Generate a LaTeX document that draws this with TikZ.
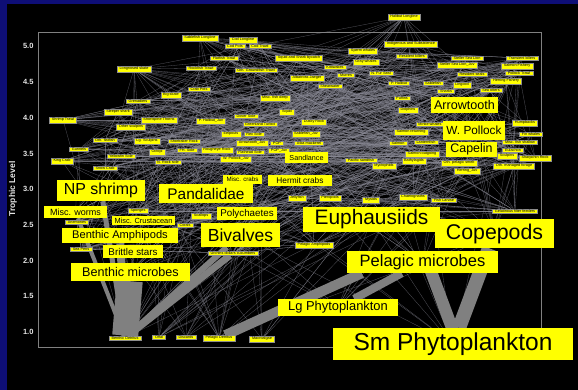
\documentclass[tikz,border=0pt]{standalone}
\usepackage{fontspec}
\setmainfont{Liberation Sans}
\usetikzlibrary{backgrounds}

\definecolor{navy}{RGB}{14,14,118}
\definecolor{webgrey}{RGB}{140,140,152}
\definecolor{labyellow}{RGB}{255,255,0}

\tikzset{
  sm/.style={fill=labyellow, draw=black!45, line width=0.3pt, inner xsep=2.5pt,
    inner ysep=0.9pt, text=black, font=\fontsize{3.8}{4}\selectfont},
  lab/.style={fill=labyellow, inner sep=0pt, text=black},
  web/.style={webgrey, line width=0.3pt, opacity=0.6},
  band/.style={gray},
  tick/.style={anchor=east, text=black!10, font=\fontsize{7.5}{8}\selectfont\bfseries}
}

\begin{document}
\begin{tikzpicture}[x=1pt,y=-1pt]
  \useasboundingbox (0,0) rectangle (578,390);
  \begin{scope}[on background layer]
    \fill[navy] (0,0) rectangle (578,390);
    \fill[black] (7,4) rectangle (578,390);
    \draw[gray,line width=1pt] (38,33) rectangle (541,347);
  \end{scope}

  % axis
  \node[rotate=90, text=black!10, font=\fontsize{8.5}{9}\selectfont\bfseries] (ylab) at (13,189) {Trophic Level};
  \foreach \t [count=\k from 0] in {1.0,1.5,2.0,2.5,3.0,3.5,4.0,4.5,5.0}
    \node[tick] (t\k) at (37,{332-35.7*\k}) {\t};

  % small groups, top to bottom
  \foreach \x/\y/\t [count=\i] in {
    404/17/Halibut Longline, 200/38/Sablefish Longline, 243/40/Cod Longline,
    411/44/Indigenous and Subsistence, 235/46/Cod Pots, 260/46/Cod Trawl,
    363/51/Sperm whales, 412/56/Resident killers, 467/58/Steller Sea Lion,
    522/58/Transient killers, 224/58/Flatfish Trawl, 299/58/Squid and Shark bycatch,
    366/62/Gray whales, 457/65/Steller Sea Lion\_Juv, 517/66/Salmon Fishery,
    335/67/Kittiwakes, 201/68/Rockfish Trawl, 134/69/Longnosed skate,
    256/70/Oth. Groundfish Trawl, 381/73/N. Fur Seal, 472/74/Resident seals,
    519/73/Pollock Trawl, 346/75/Murres, 307/78/Albatross Jaeger,
    330/86/Shearwater, 399/83/P. Halibut, 433/83/Sablefish,
    462/85/Lingcod, 506/81/Herring Fishery, 199/89/Crab Pots,
    446/91/Sharks, 491/90/Sea otters, 171/95/Big skate,
    275/98/Misc. fish deep, 402/98/Puffins, 138/101/Grenadiers,
    408/110/Dolphins, 118/112/Sleeper shark, 287/112/Squid,
    63/120/Shrimp Trawl, 159/120/Shortspine Thorns, 211/121/P. Halibut\_Juv,
    246/116/Dover Sole, 260/124/Greenland Turbot, 314/122/Dusky Rock,
    430/124/Minke whales, 525/123/Humpbacks, 131/127/Other sculpins,
    231/134/Eelpouts, 254/134/Rex Sole, 306/134/Sablefish\_Juv,
    411/132/Salmon returning, 531/134/Fin whales, 105/140/Oth. flatfish,
    147/141/Lg. Sculpins, 184/141/Shortraker Rock, 252/143/Arrowtooth\_Juv,
    277/143/POP, 309/143/Atka mackerel, 398/143/Salmon,
    426/142/Lanternfish, 520/142/Misc. fish shallow, 79/149/Gunnels,
    157/152/Octopi, 187/150/FH. Sole, 217/150/Rougheye Rock,
    250/152/Flathead Sole, 279/151/POP\_Juv, 513/150/Eulachon,
    121/156/Yellowfin Sole, 422/154/Salmon outgoing, 507/156/Sculpins,
    535/158/Sharpchin Rock, 62/161/King Crab, 168/162/N. Rock sole,
    236/159/W. Pollock\_Juv, 361/160/Pacific sandfish, 384/166/Myctophids,
    414/161/Bathylagids, 459/163/Oth. pelagic smelt, 514/166/Oth. managed forage,
    105/168/Snow Crab, 467/171/Herring\_Juv, 297/198/Jellyfish,
    330/198/Pteropods, 371/200/Mysids, 413/197/Chaetognaths,
    444/200/Fish Larvae, 515/211/Gelatinous filter feeders, 138/211/Sponges,
    201/216/Scallops, 77/222/Anemones, 185/225/Corals,
    314/245/Pelagic Amphipods, 81/249/Sea Pens, 233/253/Urchins dollars cucumbers,
    125/338/Benthic Detritus, 159/337/Offal, 186/337/Discards,
    219/338/Pelagic Detritus, 262/339/Macroalgae}
    \node[sm] (n\i) at (\x,\y) {\t};

  % main groups
  \node[lab, minimum width=67, minimum height=16, font=\fontsize{12.6}{13}\selectfont] (arrow) at (464.5,105) {Arrowtooth};
  \node[lab, minimum width=62, minimum height=19, font=\fontsize{11.8}{12}\selectfont] (wpol) at (474,130.5) {W. Pollock};
  \node[lab, minimum width=51, minimum height=15, font=\fontsize{12.4}{13}\selectfont] (capelin) at (471.5,149.5) {Capelin};
  \node[lab, minimum width=43, minimum height=11, font=\fontsize{7.2}{8}\selectfont] (sandl) at (306.5,157.5) {Sandlance};
  \node[lab, minimum width=39, minimum height=9, font=\fontsize{6.2}{7}\selectfont] (mcrabs) at (242.5,179.5) {Misc. crabs};
  \node[lab, minimum width=64, minimum height=11, font=\fontsize{8.3}{9}\selectfont] (hermit) at (300,180.5) {Hermit crabs};
  \node[lab, minimum width=88, minimum height=21, font=\fontsize{15.9}{16}\selectfont] (npshrimp) at (101,190.5) {NP shrimp};
  \node[lab, minimum width=94, minimum height=19, font=\fontsize{15.4}{16}\selectfont] (pand) at (206,193.5) {Pandalidae};
  \node[lab, minimum width=63, minimum height=12, font=\fontsize{9}{10}\selectfont] (worms) at (75.5,212) {Misc. worms};
  \node[lab, minimum width=60, minimum height=13, font=\fontsize{9.8}{10}\selectfont] (poly) at (247,213.5) {Polychaetes};
  \node[lab, minimum width=137, minimum height=25, font=\fontsize{20.9}{21}\selectfont] (euph) at (371.5,219.5) {Euphausiids};
  \node[lab, minimum width=63, minimum height=9, font=\fontsize{7.4}{8}\selectfont] (crust) at (143.5,220.5) {Misc. Crustacean};
  \node[lab, minimum width=119, minimum height=29, font=\fontsize{21.3}{22}\selectfont] (cope) at (494.5,233.5) {Copepods};
  \node[lab, minimum width=79, minimum height=24, font=\fontsize{17.5}{18}\selectfont] (biv) at (240.5,235) {Bivalves};
  \node[lab, minimum width=116, minimum height=15, font=\fontsize{11.1}{12}\selectfont] (bamph) at (120,235.5) {Benthic Amphipods};
  \node[lab, minimum width=60, minimum height=13, font=\fontsize{9.8}{10}\selectfont] (brittle) at (133,251.5) {Brittle stars};
  \node[lab, minimum width=151, minimum height=22, font=\fontsize{16.5}{17}\selectfont] (pmic) at (422.5,262) {Pelagic microbes};
  \node[lab, minimum width=119, minimum height=18, font=\fontsize{12.6}{13}\selectfont] (bmic) at (130.5,272) {Benthic microbes};
  \node[lab, minimum width=120, minimum height=17, font=\fontsize{12.9}{13}\selectfont] (lgphy) at (338,307.5) {Lg Phytoplankton};
  \node[lab, minimum width=240, minimum height=32, font=\fontsize{24.5}{25}\selectfont] (smphy) at (453,344) {Sm Phytoplankton};

  % feeding links
  \begin{scope}[on background layer]
    \pgfmathsetseed{11}
    \foreach \i in {1,...,95} {
      \pgfmathtruncatemacro\lo{\i+1}
      \pgfmathtruncatemacro\ne{4+(96-\i)/9}
      \foreach \k in {1,...,\ne} {
        \pgfmathrandominteger{\j}{\lo}{96}
        \draw[web] (n\i) -- (n\j);
      }
    }
    \foreach \i in {2,4,...,96} {
      \pgfmathrandominteger{\j}{97}{101}
      \draw[web] (n\i) -- (n\j);
    }
    \foreach \b/\m in {arrow/30, wpol/45, capelin/60, sandl/62, mcrabs/75, hermit/75,
        npshrimp/80, pand/80, worms/90, poly/90, euph/88, crust/90, cope/89, biv/93,
        bamph/93, brittle/95, pmic/96, bmic/96, lgphy/96, smphy/96} {
      \foreach \k in {1,...,8} {
        \pgfmathrandominteger{\j}{1}{\m}
        \draw[web] (n\j) -- (\b);
      }
    }
    \foreach \a/\b in {arrow/wpol, arrow/capelin, arrow/sandl, arrow/pand, arrow/euph,
        arrow/npshrimp, arrow/cope, wpol/euph, wpol/cope, wpol/capelin, wpol/sandl,
        wpol/pand, wpol/npshrimp, wpol/hermit, wpol/poly, capelin/euph, capelin/cope,
        capelin/pmic, sandl/cope, sandl/euph, mcrabs/biv, mcrabs/poly, mcrabs/worms,
        mcrabs/bamph, mcrabs/n97, hermit/biv, hermit/poly, hermit/bamph, hermit/n97,
        npshrimp/worms, npshrimp/bamph, npshrimp/n97, npshrimp/bmic, npshrimp/poly,
        pand/euph, pand/cope, pand/worms, pand/bamph, pand/n97, pand/bmic,
        worms/n97, worms/bmic, poly/n97, poly/bmic, euph/cope, euph/pmic, euph/smphy,
        euph/lgphy, euph/n100, crust/n97, crust/bmic, cope/pmic, cope/smphy,
        cope/lgphy, biv/n97, biv/bmic, biv/smphy, biv/n100, bamph/n97, bamph/bmic,
        brittle/n97, brittle/bmic, pmic/n100, pmic/smphy, pmic/lgphy, bmic/n97}
      \draw[web] (\a) -- (\b);

    % heavy flows
    \draw[band, line width=14pt] (smphy) -- (cope);
    \draw[band, line width=12pt] ([xshift=5pt]smphy.center) -- ([xshift=5pt]pmic.center);
    \draw[band, line width=8pt] (lgphy) -- (pmic);
    \draw[band, line width=10pt] (n100) -- ([xshift=15pt]pmic.south west);
    \draw[band, line width=26pt] (n97) -- (bmic);
    \draw[band, line width=8pt] (n97) -- (bamph);
    \draw[band, line width=7pt] (n97) -- (n96);
    \draw[band, line width=6pt] (n97) -- (biv);
    \draw[band, line width=5pt] (n97) -- (npshrimp);
    \draw[band, line width=4pt] (n97) -- (worms);
  \end{scope}
\end{tikzpicture}
\end{document}
